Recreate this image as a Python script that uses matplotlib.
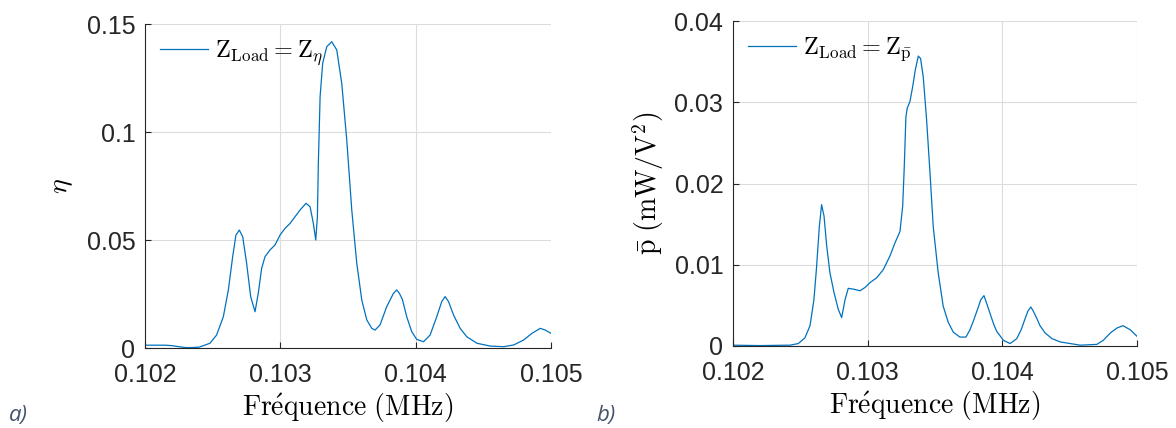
import numpy as np
import matplotlib
matplotlib.use("Agg")
import matplotlib.pyplot as plt

plt.rcParams['mathtext.fontset'] = 'cm'
plt.rcParams['font.family'] = ['Liberation Sans', 'DejaVu Sans']

# courbe a) : rendement eta en fonction de la frequence (MHz)
f_eta = [0.102, 0.10215, 0.1022, 0.10225, 0.1023, 0.10235, 0.1024,
         0.10248, 0.102529, 0.102579, 0.102616, 0.102648, 0.102672, 0.102697,
         0.102722, 0.102751, 0.102781, 0.102813, 0.102837, 0.102862, 0.102887,
         0.102924, 0.102961, 0.102998, 0.103035, 0.103072, 0.103109, 0.103146,
         0.10319, 0.10322, 0.103244, 0.103262, 0.103274, 0.103281, 0.103294,
         0.103313, 0.103343, 0.10338, 0.103417, 0.103454, 0.103491, 0.103528,
         0.103565, 0.103602, 0.103639, 0.103676, 0.1037, 0.103737, 0.103786,
         0.103836, 0.10386, 0.10388, 0.103902, 0.103934, 0.103971, 0.104008,
         0.104058, 0.104107, 0.104156, 0.104193, 0.104218, 0.104243, 0.10428,
         0.104329, 0.104378, 0.104453, 0.104551, 0.10465, 0.104724, 0.104798,
         0.10486, 0.104921, 0.104958, 0.105]
eta = [0.0013, 0.0013, 0.0011, 0.0006, 0.0002, 0.0002, 0.0004,
       0.0022, 0.0060, 0.0145, 0.0269, 0.0423, 0.0523, 0.0546,
       0.0515, 0.0392, 0.0238, 0.0168, 0.0253, 0.0369, 0.0423,
       0.0454, 0.0477, 0.0523, 0.0554, 0.0577, 0.0608, 0.0639,
       0.0670, 0.0654, 0.0577, 0.0500, 0.0608, 0.0855, 0.1164,
       0.1318, 0.1395, 0.1418, 0.1380, 0.1225, 0.0963, 0.0639,
       0.0392, 0.0222, 0.0130, 0.0091, 0.0083, 0.0107, 0.0191,
       0.0253, 0.0269, 0.0253, 0.0225, 0.0145, 0.0076, 0.0040,
       0.0029, 0.0060, 0.0145, 0.0215, 0.0238, 0.0215, 0.0153,
       0.0091, 0.0052, 0.0022, 0.0009, 0.0006, 0.0014, 0.0037,
       0.0068, 0.0091, 0.0083, 0.0068]

# courbe b) : puissance moyenne p (mW/V^2)
f_p = [0.102, 0.1022, 0.1024, 0.102423, 0.102485, 0.102534, 0.102572,
       0.102601, 0.102621, 0.102641, 0.102658, 0.102676, 0.102696, 0.10272,
       0.10275, 0.102782, 0.102807, 0.102832, 0.102856, 0.102894, 0.102943,
       0.10298, 0.103017, 0.103067, 0.103116, 0.103166, 0.103203, 0.10324,
       0.10326, 0.103272, 0.103284, 0.103294, 0.103314, 0.103334, 0.103354,
       0.103376, 0.103393, 0.103413, 0.103438, 0.103463, 0.103487, 0.103524,
       0.103561, 0.103599, 0.103636, 0.103685, 0.10373, 0.10376, 0.10379,
       0.103822, 0.10384, 0.103864, 0.103889, 0.103909, 0.10394, 0.103959,
       0.104008, 0.104058, 0.104107, 0.10414, 0.10417, 0.10419, 0.104212,
       0.10423, 0.104256, 0.10428, 0.104318, 0.10437, 0.10443, 0.104579,
       0.104702, 0.10475, 0.104802, 0.10485, 0.104896, 0.10495, 0.105]
p = [0.0001, 0.00005, 0.0001, 0.0001, 0.0003, 0.0010, 0.0025,
     0.0057, 0.0098, 0.0147, 0.0174, 0.0160, 0.0123, 0.0090,
     0.0066, 0.0045, 0.0035, 0.0057, 0.0071, 0.0070, 0.0068,
     0.0072, 0.0078, 0.0084, 0.0094, 0.0111, 0.0127, 0.0141,
     0.0172, 0.0221, 0.0282, 0.0293, 0.0301, 0.0319, 0.0340,
     0.0357, 0.0354, 0.0331, 0.0278, 0.0213, 0.0147, 0.0090,
     0.0049, 0.0029, 0.0017, 0.0011, 0.0011, 0.0020, 0.0033,
     0.0048, 0.0057, 0.0062, 0.0050, 0.0040, 0.0025, 0.0018,
     0.0007, 0.0003, 0.0009, 0.0020, 0.0034, 0.0043, 0.0048,
     0.0043, 0.0034, 0.0025, 0.0016, 0.0009, 0.0005, 0.0001,
     0.0002, 0.0007, 0.0016, 0.0022, 0.0025, 0.0020, 0.0012]

xticks = [0.102, 0.103, 0.104, 0.105]
xtick_labels = ['0.102', '0.103', '0.104', '0.105']
yticks_eta = [0, 0.05, 0.1, 0.15]
yticks_p = [0, 0.01, 0.02, 0.03, 0.04]

fig = plt.figure(figsize=(11.76, 4.28), dpi=100)
ax1 = fig.add_axes([0.1233, 0.1869, 0.3452, 0.757])
ax2 = fig.add_axes([0.6233, 0.1916, 0.3435, 0.759])

col = '#0072BD'


def style(ax, yt, ylim):
    ax.set_xlim(0.102, 0.105)
    ax.set_ylim(*ylim)
    ax.set_xticks(xticks)
    ax.set_xticklabels(xtick_labels)
    ax.set_yticks(yt)
    ax.set_yticklabels(['0' if v == 0 else ('%g' % v) for v in yt])
    ax.grid(True, color='#dcdcdc', lw=0.8)
    ax.set_axisbelow(True)
    for s in ['top', 'right']:
        ax.spines[s].set_visible(False)
    for s in ['left', 'bottom']:
        ax.spines[s].set_color('#262626')
        ax.spines[s].set_linewidth(0.8)
    ax.tick_params(direction='in', length=4, width=0.8, colors='#262626',
                   labelsize=18)
    ax.tick_params(axis='x', pad=11)
    ax.tick_params(axis='y', pad=7)


ax1.plot(f_eta, eta, color=col, lw=0.9, label=r'$\mathrm{Z_{Load}} = \mathrm{Z}_{\eta}$')
style(ax1, yticks_eta, (0, 0.15))
ax1.set_ylabel(r'$\eta$', fontsize=20, labelpad=8)
ax1.set_xlabel(r'$\mathrm{Fr\acute{e}quence\ (MHz)}$', fontsize=20, labelpad=3)

ax2.plot(f_p, p, color=col, lw=0.9, label=r'$\mathrm{Z_{Load}} = \mathrm{Z}_{\bar{\mathrm{p}}}$')
style(ax2, yticks_p, (0, 0.04))
ax2.set_ylabel(r'$\bar{\mathrm{p}}\ (\mathrm{mW/V^2})$', fontsize=20, labelpad=6)
ax2.set_xlabel(r'$\mathrm{Fr\acute{e}quence\ (MHz)}$', fontsize=20, labelpad=3)

for ax in (ax1, ax2):
    ax.legend(loc='upper left', frameon=False, fontsize=17.5, handlelength=2.0,
              borderaxespad=0.2, handletextpad=0.3)

fig.text(0.008, 0.030, 'a)', fontsize=16, style='italic', color='#44546A',
         family=['Open Sans', 'DejaVu Sans'], va='center')
fig.text(0.507, 0.030, 'b)', fontsize=16, style='italic', color='#44546A',
         family=['Open Sans', 'DejaVu Sans'], va='center')

fig.savefig('out.png', dpi=100)
